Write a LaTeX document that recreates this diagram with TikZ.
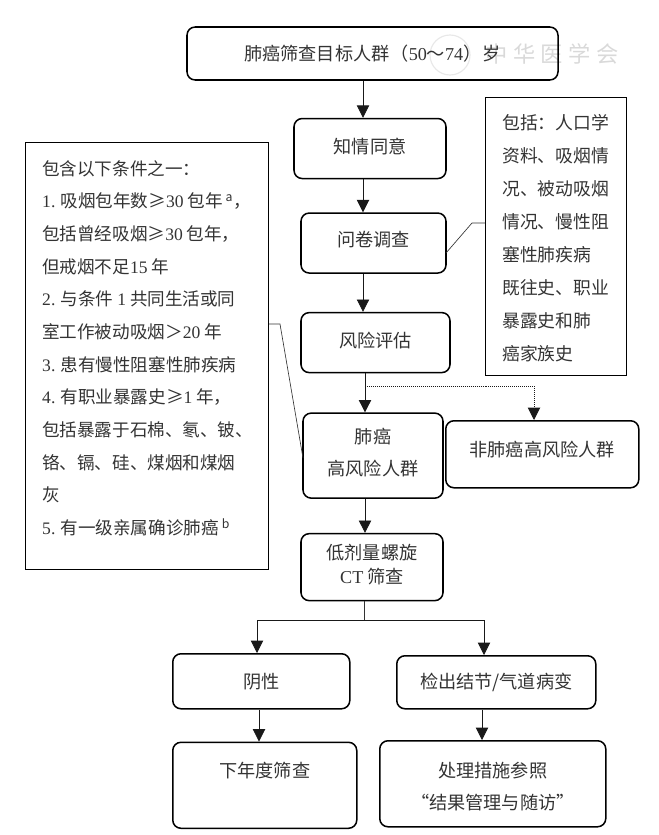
\documentclass[tikz,border=0pt]{standalone}
\usepackage{fontspec}
\setmainfont{Noto Sans CJK SC}
\usetikzlibrary{arrows.meta,positioning,calc}
\newfontfamily\numfont{Liberation Serif}
\newcommand{\lifted}[2]{\raisebox{#1}{#2}}
\tikzset{
    stepbox/.style={rectangle,draw,line width=1.3pt,rounded corners=7pt,align=center,
                    text=black!80,font=\fontsize{15.5}{27}\selectfont,inner sep=0pt},
    notebox/.style={rectangle,draw,line width=1pt,anchor=north west,inner sep=0pt},
    notetext/.style={anchor=north west,align=left,text=black!80,inner sep=0pt},
    arrow/.style={-{Triangle[length=10.5pt,width=10.5pt]},line width=0.7pt,black!90},
    branch/.style={arrow,densely dotted,line width=0.8pt},
    link/.style={line width=0.55pt,black!80},
    faint/.style={text=black!15,font=\fontsize{19}{19}\selectfont\itshape},
}

\begin{document}
\begin{tikzpicture}[x=0.03cm,y=-0.03cm]

    \useasboundingbox (0,0) rectangle (658,835);

    % ---- seal behind the first box ----
    \node[circle,draw=black!9,minimum size=1.2cm,line width=1pt] (seal) at (450,55) {};
    \node[faint] (mark) at (552,54) {中\hspace{0.16cm}华\hspace{0.16cm}医\hspace{0.16cm}学\hspace{0.16cm}会};

    % ---- main column ----
    \node[stepbox,minimum width=11.13cm,minimum height=1.59cm] (target) at (372.5,53.5)
        {\lifted{1.6pt}{肺癌筛查目标人群\hspace{1pt}（{\numfont 50}～{\numfont 74}）\hspace{1pt}岁}};
    \node[stepbox,minimum width=4.56cm,minimum height=1.8cm,below=1.11cm of target,xshift=-0.075cm] (consent)
        {\lifted{5pt}{知情同意}};
    \node[stepbox,minimum width=4.35cm,minimum height=1.8cm,below=0.99cm of consent,xshift=0.105cm] (survey)
        {\lifted{7pt}{问卷调查}};
    \node[stepbox,minimum width=4.47cm,minimum height=1.8cm,below=1.14cm of survey,xshift=0.06cm] (risk)
        {\lifted{5pt}{风险评估}};
    \node[stepbox,minimum width=4.2cm,minimum height=2.55cm,below=1.17cm of risk,xshift=-0.075cm,text depth=6pt] (high)
        {肺癌\\高风险人群};
    \node[stepbox,minimum width=5.79cm,minimum height=2.01cm,anchor=north west] (low) at (445,420)
        {\lifted{10pt}{非肺癌高风险人群}};
    \node[stepbox,minimum width=4.26cm,minimum height=2.01cm,below=1.02cm of high,xshift=-0.03cm,
          font=\fontsize{15.5}{20.5}\selectfont,text depth=6pt] (ldct)
        {低剂量螺旋\\{\numfont CT} 筛查};

    % ---- results ----
    \node[stepbox,minimum width=5.31cm,minimum height=1.65cm,anchor=north west] (neg) at (172,653)
        {阴性};
    \node[stepbox,minimum width=5.97cm,minimum height=1.59cm,anchor=north west] (pos) at (396,655)
        {检出结节/气道病变};
    \node[stepbox,minimum width=5.52cm,minimum height=2.58cm,below=0.96cm of neg.south west,anchor=north west] (next)
        {下年度筛查\\~};
    \node[stepbox,minimum width=6.78cm,minimum height=2.58cm,anchor=north west,text height=45pt] (manage) at (379,740)
        {处理措施参照\\“结果管理与随访”};

    % ---- side notes ----
    \node[notebox,minimum width=4.23cm,minimum height=8.34cm] (items) at (485,97) {};
    \node[notebox,minimum width=7.29cm,minimum height=12.81cm] (criteria) at (25,142) {};
    \node[notetext,font=\fontsize{15.2}{28.2}\selectfont] (itemstext) at (502,114)
        {包括：人口学\\资料、吸烟情\\况、被动吸烟\\情况、慢性阻\\塞性肺疾病\\既往史、职业\\暴露史和肺\\癌家族史};
    \node[notetext,font=\fontsize{15}{27.9}\selectfont] (criteriatext) at (42,160)
        {包含以下条件之一：\\
         {\numfont 1.} 吸烟包年数≥{\numfont 30} 包年\,\textsuperscript{a}，\\
         包括曾经吸烟≥{\numfont 30} 包年，\\
         但戒烟不足{\numfont 15} 年\\
         {\numfont 2.} 与条件 {\numfont 1} 共同生活或同\\
         室工作被动吸烟＞{\numfont 20} 年\\
         {\numfont 3.} 患有慢性阻塞性肺疾病\\
         {\numfont 4.} 有职业暴露史≥{\numfont 1} 年，\\
         包括暴露于石棉、氡、铍、\\
         铬、镉、硅、煤烟和煤烟\\
         灰\\
         {\numfont 5.} 有一级亲属确诊肺癌\,\textsuperscript{b}};

    % ---- connector points ----
    \coordinate (upperx) at (363,0);
    \coordinate (split) at (365,386);
    \coordinate (fork) at (364,620);
    \coordinate (negx) at (257,0);
    \coordinate (posx) at (484,0);
    \coordinate (nextx) at (259,0);
    \coordinate (managex) at (482,0);
    \coordinate (lowx) at (534,0);
    \coordinate (kink) at (280,324);
    \coordinate (highin) at (303,458);
    \coordinate (surveyout) at (446,253);
    \coordinate (bend) at (472,223);

    % ---- connectors ----
    \draw[arrow] (target.south -| upperx) -- (consent.north -| upperx);
    \draw[arrow] (consent.south -| upperx) -- (survey.north -| upperx);
    \draw[arrow] (survey.south -| upperx) -- (risk.north -| upperx);
    \draw[arrow] (risk.south -| split) -- (high.north -| split);
    \draw[branch] (split) -| (low.north -| lowx);
    \draw[arrow] (high.south -| split) -- (ldct.north -| split);
    \draw[link] (ldct.south -| fork) -- (fork);
    \draw[arrow] (fork) -| (neg.north -| negx);
    \draw[arrow] (fork) -| (pos.north -| posx);
    \draw[arrow] (neg.south -| nextx) -- (next.north -| nextx);
    \draw[arrow] (pos.south -| managex) -- (manage.north -| managex);

    \draw[link] (criteria.east |- kink) -- (kink) -- (highin);
    \draw[link] (surveyout) -- (bend) -- (items.west |- bend);

\end{tikzpicture}
\end{document}
